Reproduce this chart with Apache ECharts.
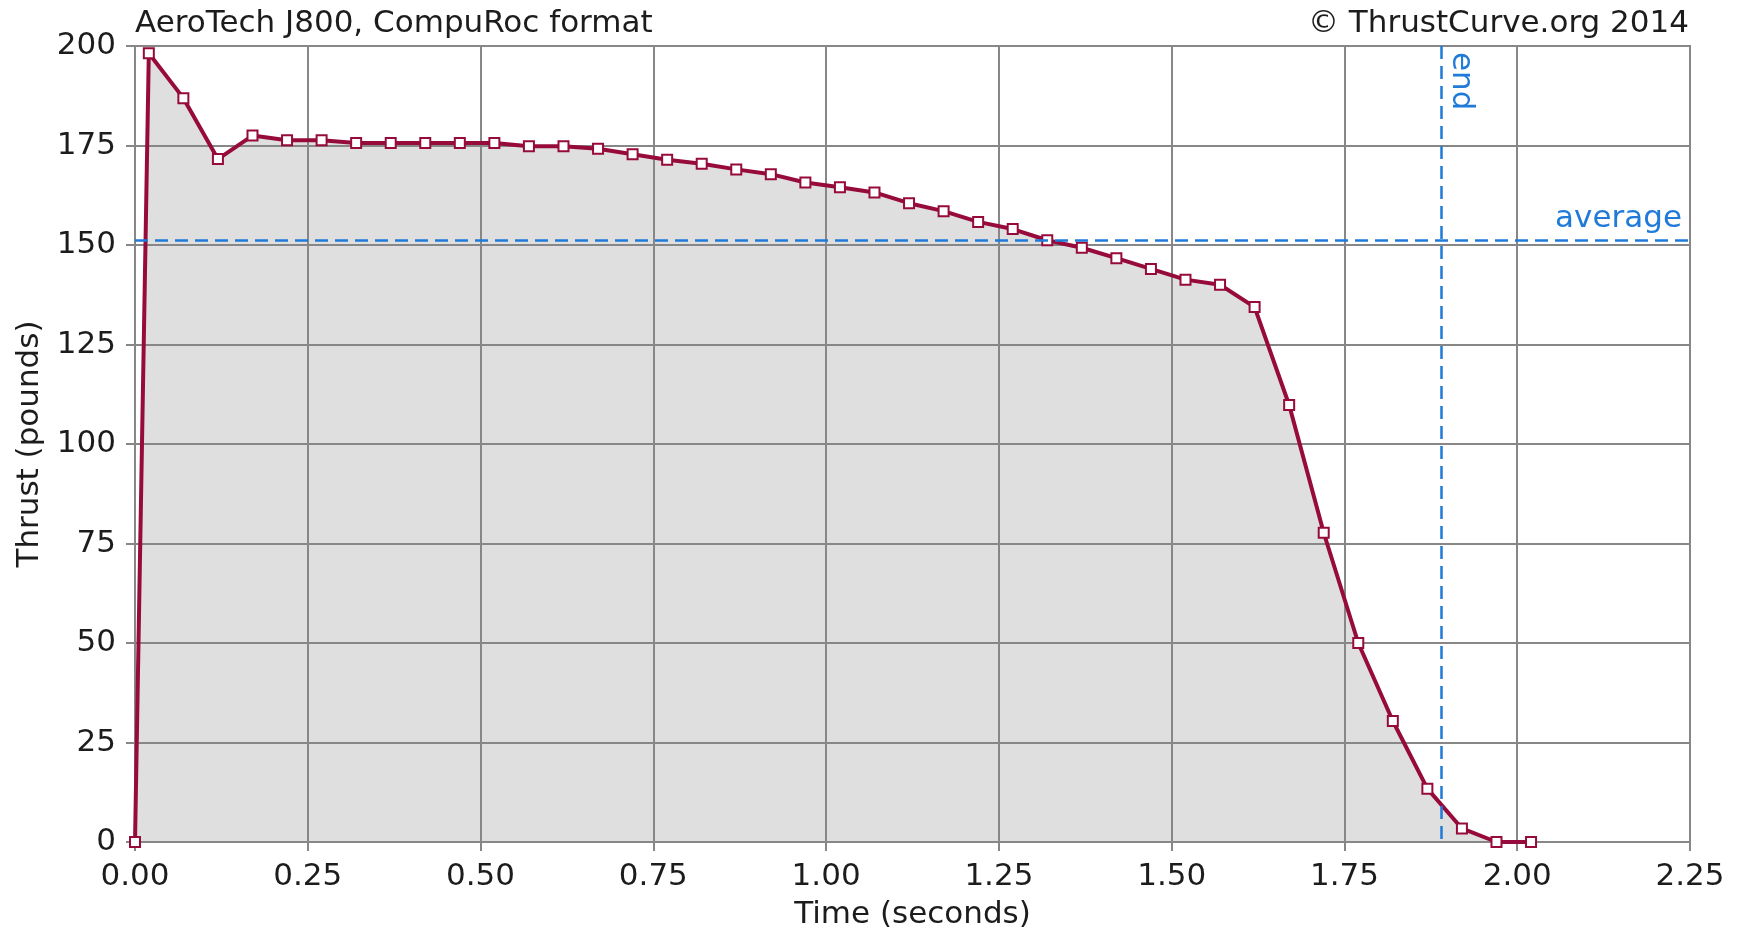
<!DOCTYPE html>
<html>
<head>
<meta charset="utf-8">
<script src="https://cdn.jsdelivr.net/npm/echarts@6/dist/echarts.min.js"></script>
<style>
html,body{margin:0;padding:0;background:#fff;}
#chart{width:1740px;height:928px;}
</style>
</head>
<body>
<div id="chart"></div>
<script>
// Data
const timeSeconds = [0.00, 0.02, 0.07, 0.12, 0.17, 0.22, 0.27, 0.32, 0.37, 0.42, 0.47, 0.52, 0.57, 0.62, 0.67, 0.72, 0.77, 0.82, 0.87, 0.92, 0.97, 1.02, 1.07, 1.12, 1.17, 1.22, 1.27, 1.32, 1.37, 1.42, 1.47, 1.52, 1.57, 1.62, 1.67, 1.72, 1.77, 1.82, 1.87, 1.92, 1.97, 2.02];
const thrustPounds = [0, 198.2, 186.9, 171.6, 177.5, 176.3, 176.3, 175.6, 175.6, 175.6, 175.6, 175.6, 174.8, 174.8, 174.2, 172.8, 171.4, 170.4, 169.0, 167.8, 165.7, 164.5, 163.2, 160.5, 158.5, 155.8, 154.0, 151.2, 149.3, 146.7, 144.0, 141.3, 140.0, 134.4, 109.8, 77.7, 50.0, 30.4, 13.4, 3.4, 0, 0];
const averageThrust = 151.2;
const burnEnd = 1.89;
const xTicks = [0, 0.25, 0.5, 0.75, 1.0, 1.25, 1.5, 1.75, 2.0, 2.25];
const yTicks = [0, 25, 50, 75, 100, 125, 150, 175, 200];
const titleText = 'AeroTech J800, CompuRoc format';
const creditText = '\u00A9 ThrustCurve.org 2014';

const points = timeSeconds.map((t, i) => [t, thrustPounds[i]]);
const FONT = 'DejaVu Sans';
const FS = 31;
const TXT = '#1c1c1c';
const GRIDC = '#878787';
const RED = '#960b3b';
const BLUE = '#1f7ad8';

const chart = echarts.init(document.getElementById('chart'), null, {renderer: 'canvas'});
chart.setOption({
  backgroundColor: '#ffffff',
  animation: false,
  title: [
    {text: titleText, left: 130, top: 3, textStyle: {fontFamily: FONT, fontSize: FS, fontWeight: 'normal', color: TXT}},
    {text: creditText, right: 46, top: 3, textStyle: {fontFamily: FONT, fontSize: FS, fontWeight: 'normal', color: TXT}}
  ],
  grid: {left: 135, right: 50, top: 46, bottom: 86, show: true, borderColor: GRIDC, borderWidth: 2, backgroundColor: 'transparent', containLabel: false, outerBoundsMode: 'none'},
  xAxis: {
    type: 'value', min: xTicks[0], max: xTicks[xTicks.length - 1], interval: xTicks[1] - xTicks[0], z: 2,
    name: 'Time (seconds)', nameLocation: 'middle', nameGap: 57,
    nameTextStyle: {fontFamily: FONT, fontSize: FS, color: TXT},
    axisLine: {show: true, lineStyle: {color: GRIDC, width: 2}},
    axisTick: {show: true, length: 9, lineStyle: {color: GRIDC, width: 2}},
    axisLabel: {fontFamily: FONT, fontSize: FS, color: TXT, margin: 19, formatter: v => v.toFixed(2)},
    splitLine: {show: true, lineStyle: {color: GRIDC, width: 2}}
  },
  yAxis: {
    type: 'value', min: yTicks[0], max: yTicks[yTicks.length - 1], interval: yTicks[1] - yTicks[0], z: 2,
    name: 'Thrust (pounds)', nameLocation: 'middle', nameGap: 90,
    nameTextStyle: {fontFamily: FONT, fontSize: FS, color: TXT},
    axisLine: {show: true, lineStyle: {color: GRIDC, width: 2}},
    axisTick: {show: true, length: 9, lineStyle: {color: GRIDC, width: 2}},
    axisLabel: {fontFamily: FONT, fontSize: FS, color: TXT, margin: 19},
    splitLine: {show: true, lineStyle: {color: GRIDC, width: 2}}
  },
  series: [
    {
      type: 'line', z: 1, data: points, symbol: 'none', silent: true,
      lineStyle: {width: 0, opacity: 0},
      areaStyle: {color: '#dfdfdf', opacity: 1}
    },
    {
      type: 'line', z: 3, data: points, symbol: 'rect', symbolSize: 10,
      lineStyle: {color: RED, width: 4},
      itemStyle: {color: '#ffffff', borderColor: RED, borderWidth: 2},
      markLine: {
        silent: true, symbol: ['none', 'none'], animation: false,
        lineStyle: {color: BLUE, width: 2.5, type: [13, 7]},
        data: [
          [{coord: [xTicks[0], averageThrust], label: {show: true, formatter: 'average', position: 'insideEndTop', distance: [8, 6], fontFamily: FONT, fontSize: FS, color: BLUE}},
           {coord: [xTicks[xTicks.length - 1], averageThrust]}],
          [{coord: [burnEnd, yTicks[yTicks.length - 1]], label: {show: true, formatter: 'end', position: 'insideStartTop', distance: [6, 4], fontFamily: FONT, fontSize: FS, color: BLUE}},
           {coord: [burnEnd, yTicks[0]]}]
        ]
      }
    }
  ]
});
</script>
</body>
</html>
